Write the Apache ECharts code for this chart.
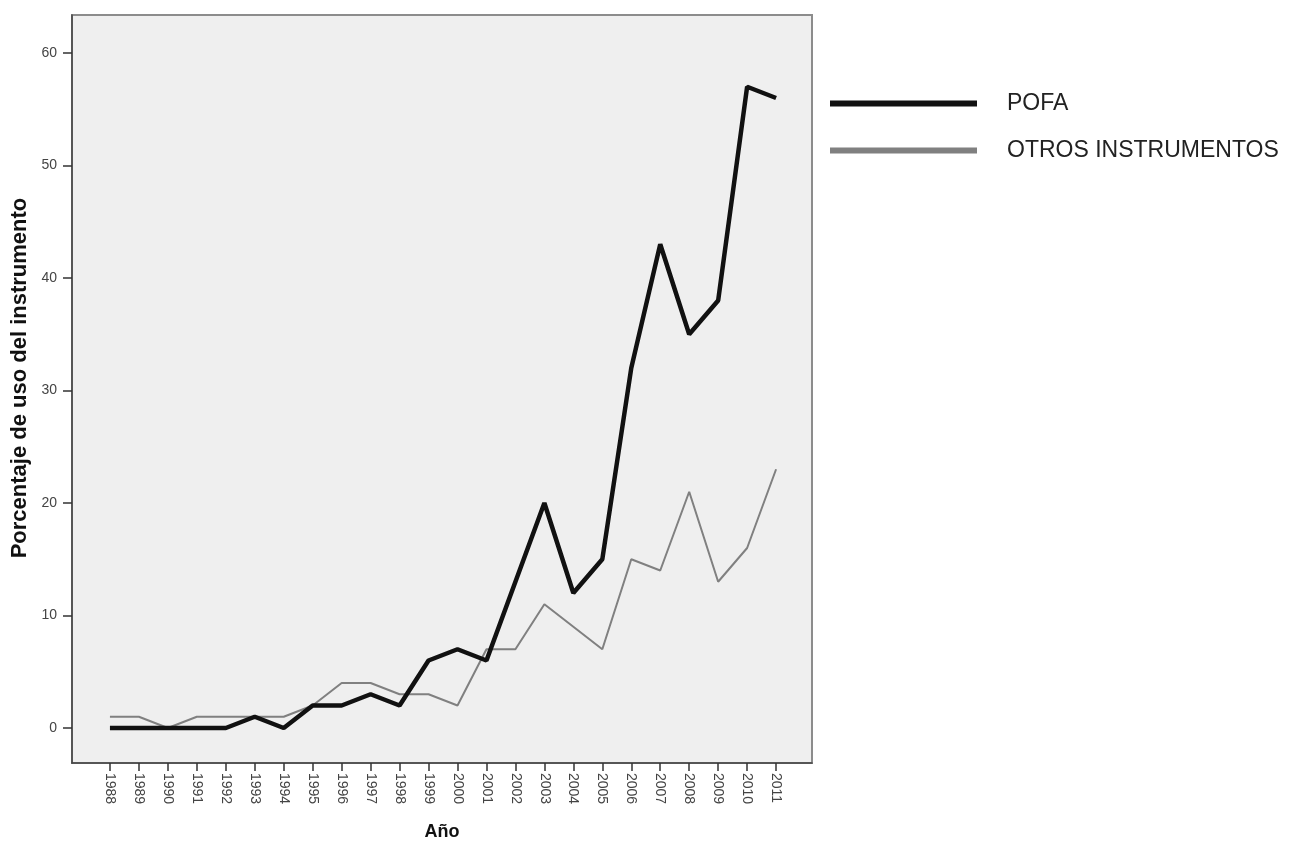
<!DOCTYPE html>
<html>
<head>
<meta charset="utf-8">
<script src="https://cdn.jsdelivr.net/npm/echarts@6/dist/echarts.min.js"></script>
<style>
html,body{margin:0;padding:0;background:#fff;}
#chart{width:1295px;height:841px;}
</style>
</head>
<body>
<div id="chart"></div>
<script>
const years = [1988,1989,1990,1991,1992,1993,1994,1995,1996,1997,1998,1999,2000,2001,2002,2003,2004,2005,2006,2007,2008,2009,2010,2011];
const pofa  = [0,0,0,0,0,1,0,2,2,3,2,6,7,6,13,20,12,15,32,43,35,38,57,56];
const otros = [1,1,0,1,1,1,1,2,4,4,3,3,2,7,7,11,9,7,15,14,21,13,16,23];
const yTicks = [0,10,20,30,40,50,60];
const seriesNames = ['POFA','OTROS INSTRUMENTOS'];

const chart = echarts.init(document.getElementById('chart'));
const fam = 'Liberation Sans, Arial, sans-serif';
chart.setOption({
  animation:false,
  backgroundColor:'#ffffff',
  grid:{left:72,right:483,top:15,bottom:78,containLabel:false,outerBoundsMode:'none',
        show:true,backgroundColor:'#efefef',borderColor:'#8c8c8c',borderWidth:2},
  legend:{
    orient:'vertical',left:830,top:92,padding:0,
    itemWidth:147,itemHeight:6,itemGap:24,
    icon:'rect',
    textStyle:{fontFamily:fam,fontSize:23,color:'#222',padding:[0,0,0,25]},
    data:[{name:seriesNames[0],itemStyle:{color:'#111'}},{name:seriesNames[1],itemStyle:{color:'#808080'}}]
  },
  xAxis:{
    type:'value',min:1986.69,max:2012.24,
    name:'Año',nameLocation:'middle',nameGap:60,
    nameTextStyle:{fontFamily:fam,fontSize:18,fontWeight:'bold',color:'#111'},
    splitLine:{show:false},
    axisLine:{show:true,onZero:false,lineStyle:{color:'#444',width:1.5}},
    axisTick:{show:true,length:8,customValues:years,lineStyle:{color:'#333',width:1.5}},
    axisLabel:{customValues:years,rotate:-90,fontFamily:fam,fontSize:14,color:'#444',margin:10,formatter:v=>String(v)}
  },
  yAxis:{
    type:'value',min:-3.11,max:63.38,
    name:'Porcentaje de uso del instrumento',nameLocation:'middle',nameGap:41,
    nameTextStyle:{fontFamily:fam,fontSize:22,fontWeight:'bold',color:'#111',padding:[0,0,0,22]},
    splitLine:{show:false},
    axisLine:{show:true,onZero:false,lineStyle:{color:'#444',width:1.5}},
    axisTick:{show:true,length:9,customValues:yTicks,lineStyle:{color:'#333',width:1.5}},
    axisLabel:{customValues:yTicks,fontFamily:fam,fontSize:14,color:'#444',margin:15}
  },
  series:[
    {name:seriesNames[1],type:'line',data:years.map((y,i)=>[y,otros[i]]),showSymbol:false,symbol:'none',
     lineStyle:{color:'#808080',width:2},itemStyle:{color:'#808080'},z:2},
    {name:seriesNames[0],type:'line',data:years.map((y,i)=>[y,pofa[i]]),showSymbol:false,symbol:'none',
     lineStyle:{color:'#111',width:4.5},itemStyle:{color:'#111'},z:3}
  ]
});
</script>
</body>
</html>
